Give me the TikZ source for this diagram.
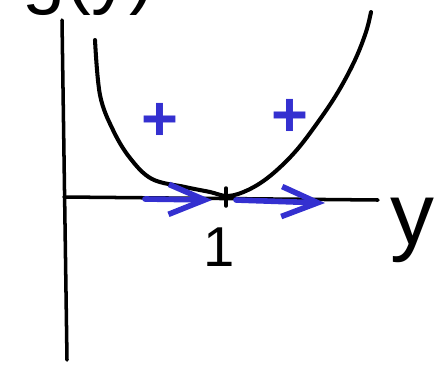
\documentclass[tikz,border=0pt]{standalone}
\usepackage{fontspec}
\setmainfont{Liberation Sans}
\definecolor{penBlue} {RGB}{ 52,  48, 208}
\definecolor{penInk}  {RGB}{  0,   0,   0}
\usetikzlibrary{arrows.meta}

\begin{document}
\begin{tikzpicture}[
  x=0.02cm, y=-0.02cm,
  axis/.style={draw=penInk, line width=2pt, line cap=round},
  curve/.style={draw=penInk, line width=2.3pt, line cap=round, line join=round},
  flow/.style={draw=penBlue, line width=3.2pt, line cap=round,
               -{Straight Barb[length=0.72cm, width=0.6cm, line width=3.2pt]}},
  sign/.style={text=penBlue, font=\fontsize{36}{36}\selectfont\bfseries},
  lbl/.style={text=penInk, inner sep=0pt},
]
  % frame of the page
  \useasboundingbox (0,0) rectangle (436,366);

  % axes
  \coordinate (yTop) at (62,20);
  \coordinate (yBot) at (67,360);
  \coordinate (xL)   at (64,197);
  \coordinate (xR)   at (378,200);
  \draw[axis] (yTop) -- (yBot);
  \draw[axis] (xL) -- (xR);

  % tick at the fixed point
  \coordinate (tkT) at (226,188);
  \coordinate (tkB) at (226,206);
  \draw[axis] (tkT) -- (tkB);

  % the curve, touching the axis at the tick
  \draw[curve] plot[smooth, tension=0.6] coordinates {
    (95,40) (100,95) (113,130) (130,158) (152,179) (185,187)
    (210,192) (228,196) (248,190) (270,176) (295,152) (318,122)
    (338,92) (355,60) (366,32) (371,12)};

  % signs
  \node[sign] (pL) at (160,122) {+};
  \node[sign] (pR) at (290,118) {+};

  % flow along the axis
  \coordinate (aL0) at (145,199);
  \coordinate (aL1) at (212,200);
  \coordinate (aR0) at (236,200);
  \coordinate (aR1) at (325,203);
  \draw[flow] (aL0) -- (aL1);
  \draw[flow] (aR0) -- (aR1);

  % labels
  \node[lbl, font=\fontsize{32}{32}\selectfont] (one) at (219,247) {1};
  \node[lbl, font=\fontsize{50}{50}\selectfont] (yl) at (412,230) {y};
  \node[lbl, font=\fontsize{44}{44}\selectfont, anchor=base west] (top) at (22,-1) {g(y)};
\end{tikzpicture}
\end{document}
